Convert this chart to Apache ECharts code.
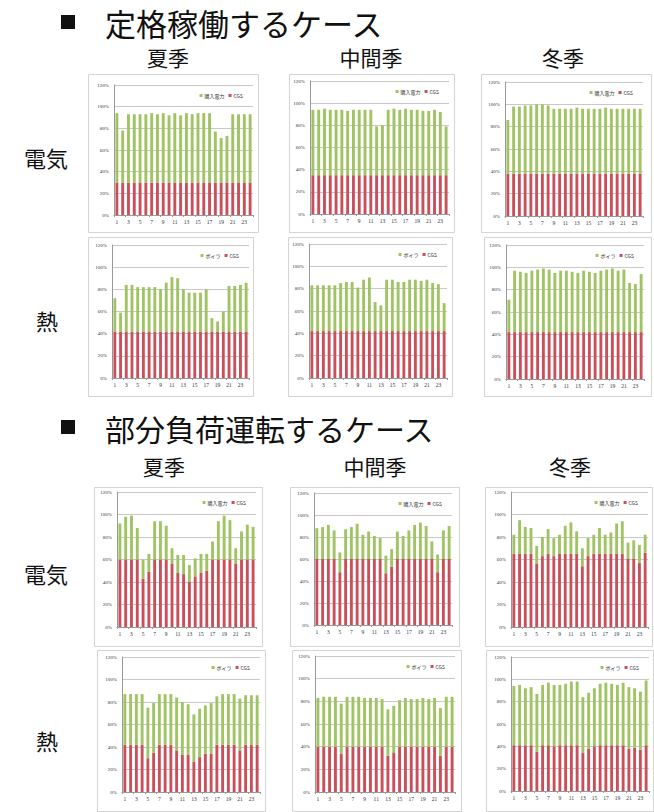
<!DOCTYPE html>
<html><head><meta charset="utf-8">
<script src="https://cdn.jsdelivr.net/npm/echarts@6/dist/echarts.min.js"></script>
<style>html,body{margin:0;padding:0;background:#fff}#c{width:654px;height:812px}</style>
</head><body><div id="c"></div>
<script>
// categories (hours)
const hours = ['1','2','3','4','5','6','7','8','9','10','11','12','13','14','15','16','17','18','19','20','21','22','23','24'];
const yTicks = [0, 20, 40, 60, 80, 100, 120];
const elecNames = ['購入電力', 'CGS'];
const heatNames = ['ボイラ', 'CGS'];

// 定格稼働 – 電気
const ratedSummerElecCGS = [30,30,30,30,30,30,30,30,30,30,30,30,30,30,30,30,30,30,30,30,30,30,30,30];
const ratedSummerElecBuy = [64,48,63,63,63,63,64,63,64,62,64,62,64,63,64,64,64,47,41,43,63,63,63,63];
const ratedMidElecCGS    = [35,35,35,35,35,35,35,35,35,35,35,35,35,35,35,35,35,35,35,35,35,35,35,35];
const ratedMidElecBuy    = [59,59,60,59,59,59,58,59,59,59,59,44,45,59,60,59,60,59,59,58,58,59,57,44];
const ratedWinterElecCGS = [38,38,38,38,38,38,38,38,38,38,38,38,38,38,38,38,38,38,38,38,38,38,38,38];
const ratedWinterElecBuy = [48,60,60,61,61,62,62,61,58,58,58,58,59,58,58,58,58,59,58,58,58,58,58,58];
// 定格稼働 – 熱
const ratedSummerHeatCGS = [42,42,42,42,42,42,42,42,42,42,42,42,42,42,42,42,42,42,42,42,42,42,42,42];
const ratedSummerHeatBoiler = [30,17,42,42,40,40,40,40,38,44,49,48,38,35,35,35,38,12,9,18,41,41,42,44];
const ratedMidHeatCGS    = [42,42,42,42,42,42,42,42,42,42,42,42,42,42,42,42,42,42,42,42,42,42,42,42];
const ratedMidHeatBoiler = [41,41,41,41,41,43,44,44,39,46,48,26,23,46,46,44,44,46,46,45,46,43,42,25];
const ratedWinterHeatCGS = [42,42,42,42,42,42,42,42,42,42,42,42,42,42,42,42,42,42,42,42,42,42,42,42];
const ratedWinterHeatBoiler = [29,55,54,53,55,56,57,56,53,55,55,54,53,55,54,53,55,56,57,55,56,44,43,52];
// 部分負荷運転 – 電気
const partSummerElecCGS = [60,60,60,60,43,49,60,60,60,56,48,47,40,45,48,50,60,60,60,60,56,60,60,60];
const partSummerElecBuy = [32,38,39,28,17,16,34,34,30,14,16,17,15,16,17,15,16,34,39,35,14,25,31,29];
const partMidElecCGS    = [60,60,60,60,48,60,60,60,60,60,60,60,47,53,60,60,60,60,60,60,60,48,60,60];
const partMidElecBuy    = [28,29,31,26,18,27,29,32,22,25,21,19,16,16,25,21,26,31,33,30,16,16,26,30];
const partWinterElecCGS = [65,65,65,65,56,63,65,63,65,65,65,65,54,63,65,65,65,65,65,65,61,61,57,66];
const partWinterElecBuy = [17,30,24,23,16,17,22,16,17,25,28,20,16,16,17,23,17,19,27,29,14,16,16,16];
// 部分負荷運転 – 熱
const partSummerHeatCGS = [42,42,42,42,30,35,42,42,42,37,33,33,27,31,34,34,42,42,42,42,37,42,42,42];
const partSummerHeatBoiler = [45,45,45,45,45,44,45,45,45,47,47,45,42,43,43,45,43,45,45,45,46,44,44,44];
const partMidHeatCGS    = [40,40,40,40,34,40,40,40,40,40,40,40,32,35,40,40,40,40,40,40,40,32,40,40];
const partMidHeatBoiler = [43,44,44,44,44,44,44,44,43,43,43,42,41,41,41,43,42,42,43,42,43,42,44,44];
const partWinterHeatCGS = [41,41,41,41,35,41,41,40,41,41,41,41,34,38,40,41,41,41,41,41,38,39,37,41];
const partWinterHeatBoiler = [53,54,51,52,52,54,56,55,54,55,57,57,50,50,52,55,56,55,54,56,55,53,52,58];

const panels = [
  {names: elecNames, top: ratedSummerElecBuy, base: ratedSummerElecCGS, box:[88,74,258,232], plot:[114,85,253,215]},
  {names: elecNames, top: ratedMidElecBuy, base: ratedMidElecCGS, box:[289,74,454,232], plot:[310,81,449,214]},
  {names: elecNames, top: ratedWinterElecBuy, base: ratedWinterElecCGS, box:[481,74,651,232], plot:[505,82,643,216]},
  {names: heatNames, top: ratedSummerHeatBoiler, base: ratedSummerHeatCGS, box:[88,237,253,396], plot:[112,245,249,378]},
  {names: heatNames, top: ratedMidHeatBoiler, base: ratedMidHeatCGS, box:[288,237,452,396], plot:[309,244,447,378]},
  {names: heatNames, top: ratedWinterHeatBoiler, base: ratedWinterHeatCGS, box:[484,237,651,396], plot:[506,245,644,379]},
  {names: elecNames, top: partSummerElecBuy, base: partSummerElecCGS, box:[94,487,262,646], plot:[117,492,256,627]},
  {names: elecNames, top: partMidElecBuy, base: partMidElecCGS, box:[290,487,459,646], plot:[314,493,452,625]},
  {names: elecNames, top: partWinterElecBuy, base: partWinterElecCGS, box:[485,487,652,646], plot:[511,492,648,627]},
  {names: heatNames, top: partSummerHeatBoiler, base: partSummerHeatCGS, box:[97,650,265,811], plot:[122,657,260,792]},
  {names: heatNames, top: partMidHeatBoiler, base: partMidHeatCGS, box:[292,650,461,811], plot:[315,656,455,792]},
  {names: heatNames, top: partWinterHeatBoiler, base: partWinterHeatCGS, box:[486,650,653,811], plot:[511,657,649,791]}
];

const GREEN = '#9fc461', RED = '#c9505a';
const FONT = '"Noto Sans CJK JP", "Noto Sans", sans-serif';
const grid = [], xAxis = [], yAxis = [], series = [], legend = [], graphic = [];

panels.forEach((p, i) => {
  const [l, t, r, b] = p.plot;
  grid.push({left: l, top: t, width: r - l, height: b - t, containLabel: false});
  xAxis.push({type: 'category', gridIndex: i, data: hours,
    axisLine: {lineStyle: {color: '#999', width: 1}},
    axisTick: {show: true, length: 2, lineStyle: {color: '#999'}},
    axisLabel: {interval: 1, fontSize: 5.5, color: '#333', margin: 4, fontFamily: 'Liberation Serif, serif'}});
  yAxis.push({type: 'value', gridIndex: i, min: yTicks[0], max: yTicks[yTicks.length - 1], interval: 20,
    axisLine: {show: true, lineStyle: {color: '#999', width: 1}},
    axisTick: {show: false},
    axisLabel: {fontSize: 5, color: '#333', margin: 5, formatter: '{value}%', fontFamily: 'Liberation Serif, serif'},
    splitLine: {lineStyle: {color: '#c8c8c8', width: 1}}});
  series.push({type: 'bar', name: p.names[1], stack: 's' + i, xAxisIndex: i, yAxisIndex: i,
    data: p.base, barWidth: '50%', itemStyle: {color: RED}, animation: false});
  series.push({type: 'bar', name: p.names[0], stack: 's' + i, xAxisIndex: i, yAxisIndex: i,
    data: p.top, barWidth: '50%', itemStyle: {color: GREEN}, animation: false});
  legend.push({data: [p.names[0], p.names[1]], right: 654 - r + 5, top: t + 3,
    icon: 'rect', itemWidth: 3, itemHeight: 3, itemGap: 4, selectedMode: false,
    textStyle: {fontSize: 5, color: '#333', fontFamily: FONT, padding: [0, 0, 0, -3]}});
  graphic.push({type: 'rect', silent: true, z: -1,
    shape: {x: p.box[0] + 0.5, y: p.box[1] + 0.5, width: p.box[2] - p.box[0], height: p.box[3] - p.box[1]},
    style: {fill: '#fff', stroke: '#d4d4d4', lineWidth: 1}});
});

function txt(text, x, y, size, align) {
  graphic.push({type: 'text', x: x, y: y, silent: true,
    style: {text: text, fontSize: size, fontFamily: FONT, fill: '#111', textAlign: align || 'center',
      textVerticalAlign: 'middle', lineHeight: size}});
}
// section headers
graphic.push({type: 'rect', shape: {x: 61, y: 15, width: 14, height: 14}, style: {fill: '#111'}});
txt('定格稼働するケース', 105, 22, 31, 'left');
graphic.push({type: 'rect', shape: {x: 61, y: 420, width: 14, height: 14}, style: {fill: '#111'}});
txt('部分負荷運転するケース', 105, 428, 30, 'left');
// season titles
txt('夏季', 168, 57, 21); txt('中間季', 371, 57, 21); txt('冬季', 563, 57, 21);
txt('夏季', 164, 466, 21); txt('中間季', 375, 466, 21); txt('冬季', 570, 466, 21);
// row labels
txt('電気', 46, 157, 22); txt('熱', 47, 320, 22);
txt('電気', 46, 573, 22); txt('熱', 47, 740, 22);

const chart = echarts.init(document.getElementById('c'), null, {renderer: 'svg'});
chart.setOption({backgroundColor: '#fff', animation: false, textStyle: {fontFamily: FONT},
  grid, xAxis, yAxis, series, legend, graphic});
</script></body></html>
